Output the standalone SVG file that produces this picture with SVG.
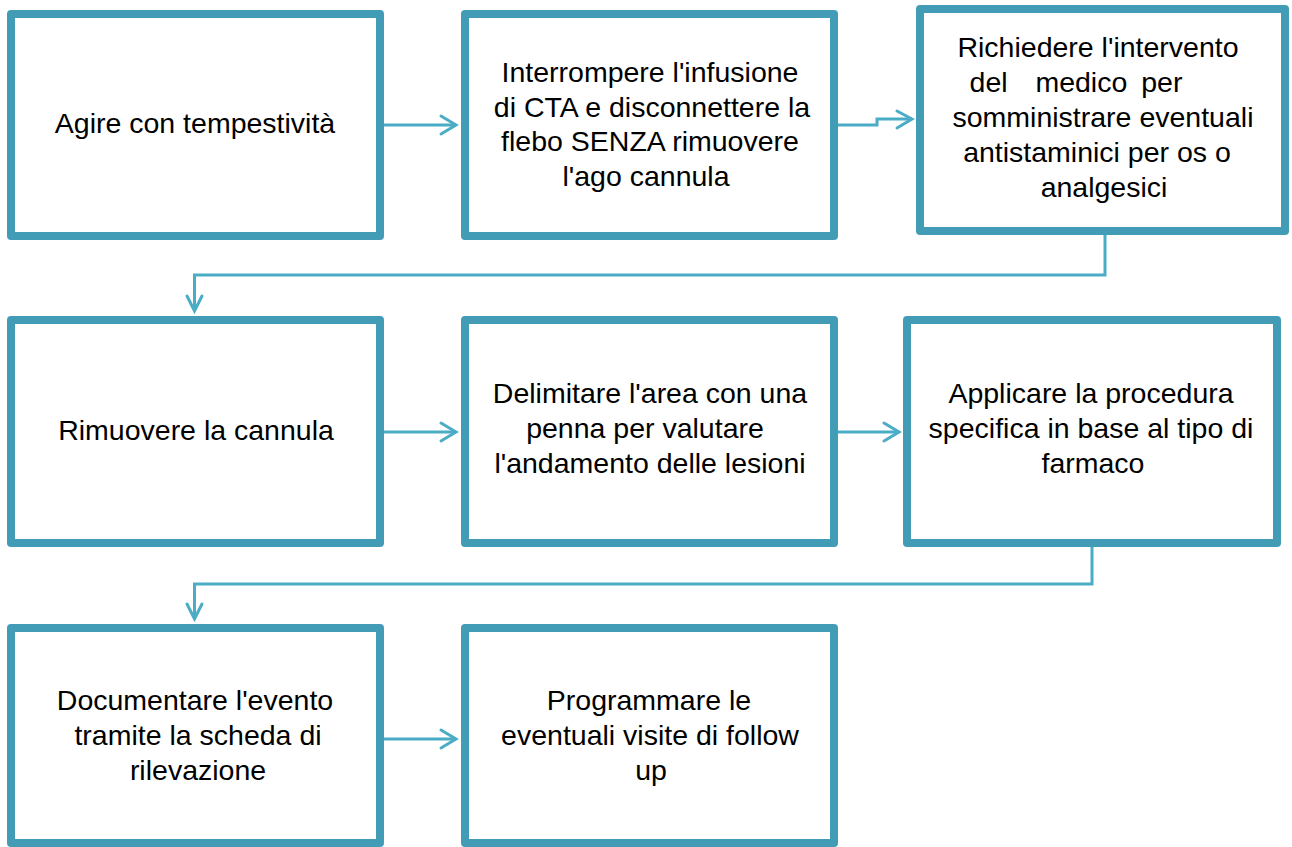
<svg xmlns="http://www.w3.org/2000/svg" width="1292" height="847" viewBox="0 0 1292 847">
<defs>
<style>
.box{fill:#fff;stroke:#439CB6;stroke-width:8;stroke-linejoin:round}
.t{font-family:"Liberation Sans",Arial,sans-serif;font-size:28.5px;fill:#000;text-anchor:middle}
.c{fill:none;stroke:#4BACC6;stroke-width:3}
.h{fill:none;stroke:#4BACC6;stroke-width:3;stroke-linecap:round;stroke-linejoin:miter}
</style>
</defs>
<rect width="1292" height="847" fill="#fff"/>
<g id="connectors">
<path class="c" d="M383 125 H456"/>
<path class="h" d="M441 116 L456 125 L441 134"/>
<path class="c" d="M838 125 H877 V119 H912"/>
<path class="h" d="M897 111 L912 119 L897 128"/>
<path class="c" d="M1105 235 V275 H194.5 V311"/>
<path class="h" d="M187 296 L194.5 311 L202 296"/>
<path class="c" d="M384 432 H456"/>
<path class="h" d="M441 423 L456 432 L441 441"/>
<path class="c" d="M838 432 H899"/>
<path class="h" d="M884 423 L899 432 L884 441"/>
<path class="c" d="M1092 547 V584 H194.5 V619"/>
<path class="h" d="M187 604 L194.5 619 L202 604"/>
<path class="c" d="M384 739 H456"/>
<path class="h" d="M441 730 L456 739 L441 748"/>
</g>
<g id="n1"><rect class="box" x="11" y="14" width="369" height="222"/>
<text class="t" x="195" y="133">Agire con tempestività</text></g>
<g id="n2"><rect class="box" x="465" y="14" width="369" height="222"/>
<text class="t" x="650" y="82">Interrompere l'infusione</text>
<text class="t" x="652" y="117">di CTA e disconnettere la</text>
<text class="t" x="650" y="151">flebo SENZA rimuovere</text>
<text class="t" x="646" y="186">l'ago cannula</text></g>
<g id="n3"><rect class="box" x="920" y="9" width="365" height="222"/>
<text class="t" x="1098" y="57">Richiedere l'intervento</text>
<text class="t" x="1076" y="92" xml:space="preserve" word-spacing="6">del  medico per</text>
<text class="t" x="1103" y="127">somministrare eventuali</text>
<text class="t" x="1097" y="162">antistaminici per os o</text>
<text class="t" x="1104" y="197">analgesici</text></g>
<g id="n4"><rect class="box" x="11" y="320" width="369" height="223"/>
<text class="t" x="196" y="440">Rimuovere la cannula</text></g>
<g id="n5"><rect class="box" x="465" y="320" width="369" height="223"/>
<text class="t" x="650" y="403">Delimitare l'area con una</text>
<text class="t" x="645" y="438">penna per valutare</text>
<text class="t" x="650" y="473">l'andamento delle lesioni</text></g>
<g id="n6"><rect class="box" x="907" y="320" width="370" height="223"/>
<text class="t" x="1091" y="403">Applicare la procedura</text>
<text class="t" x="1091" y="438">specifica in base al tipo di</text>
<text class="t" x="1093" y="473">farmaco</text></g>
<g id="n7"><rect class="box" x="11" y="628" width="369" height="215"/>
<text class="t" x="195" y="710">Documentare l'evento</text>
<text class="t" x="198" y="745">tramite la scheda di</text>
<text class="t" x="198" y="780">rilevazione</text></g>
<g id="n8"><rect class="box" x="465" y="628" width="369" height="215"/>
<text class="t" x="649" y="710">Programmare le</text>
<text class="t" x="650" y="745">eventuali visite di follow</text>
<text class="t" x="651" y="780">up</text></g>
</svg>
